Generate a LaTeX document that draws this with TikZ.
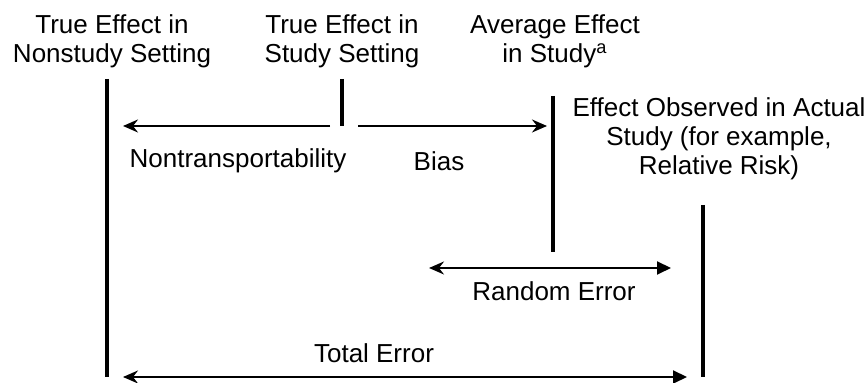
\documentclass[tikz,border=0pt]{standalone}
\usepackage{fontspec}
\setmainfont{Liberation Sans}
\usetikzlibrary{arrows.meta}
\begin{document}
\begin{tikzpicture}[
	x=0.5pt, y=-0.5pt,
	effect line/.style={line width=1.6pt},
	error arrow/.style={line width=1pt},
	left tip/.tip={Stealth[length=7.5pt, width=6.5pt, inset=2.5pt]},
	right tip/.tip={Triangle[length=7pt, width=6.5pt]},
	head node/.style={align=center, anchor=north, inner sep=0pt, font=\fontsize{13}{14.5}\selectfont},
	label node/.style={inner sep=0pt, font=\fontsize{13}{14.5}\selectfont}
	]
	\useasboundingbox (0,0) rectangle (867,383);
	% the four effects
	\coordinate (NonTop) at (107,79);
	\coordinate (NonBot) at (107,377);
	\coordinate (StudyTop) at (342,79);
	\coordinate (StudyBot) at (342,126);
	\coordinate (AvgTop) at (553,96);
	\coordinate (AvgBot) at (553,252);
	\coordinate (ObsTop) at (703,205);
	\coordinate (ObsBot) at (703,377);
	\draw[effect line] (NonTop) -- (NonBot);
	\draw[effect line] (StudyTop) -- (StudyBot);
	\draw[effect line] (AvgTop) -- (AvgBot);
	\draw[effect line] (ObsTop) -- (ObsBot);
	
	\node[head node] (nonstudy) at (112,14) {True Effect in\\Nonstudy Setting};
	\node[head node] (study) at (342,14) {True Effect in\\Study Setting};
	\node[head node] (average) at (555,14) {Average Effect\\in Study\textsuperscript{a}};
	\node[head node] (observed) at (719,97) {Effect Observed in Actual\\Study (for example,\\Relative Risk)};
	
	% errors
	\draw[error arrow, -left tip, shorten <=6pt, shorten >=8pt] (StudyBot) -- (NonTop |- StudyBot);
	\draw[error arrow, -left tip, shorten <=8pt, shorten >=3pt] (StudyBot) -- (AvgTop |- StudyBot);
	\node[label node] (nontrans) at (238,161) {Nontransportability};
	\node[label node] (bias) at (439,161) {Bias};
	
	\coordinate (RandL) at (429,268);
	\coordinate (RandR) at (671,268);
	\draw[error arrow, left tip-right tip] (RandL) -- (RandR);
	\node[label node] (random) at (554,291) {Random Error};
	
	\draw[error arrow, left tip-right tip, shorten <=8pt, shorten >=8pt] (NonBot) -- (ObsBot);
	\node[label node] (total) at (374,353) {Total Error};
\end{tikzpicture}
\end{document}
